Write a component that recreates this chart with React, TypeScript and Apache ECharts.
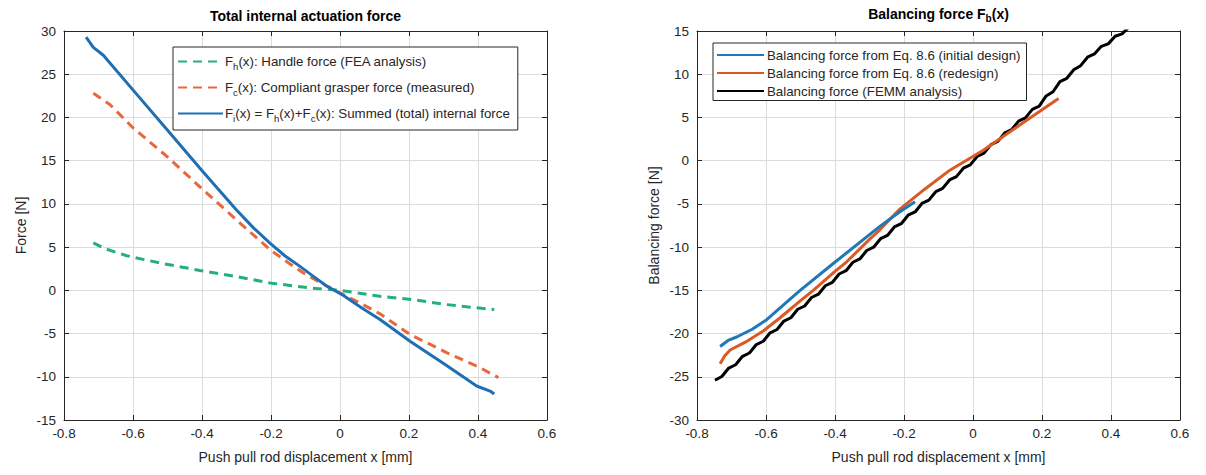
import React, { useEffect, useRef } from "react";
import * as echarts from "echarts";

// ---- Left chart: Total internal actuation force ----
const fhX = [-0.715, -0.68, -0.618, -0.522, -0.406, -0.3, -0.203, -0.087, 0, 0.116, 0.212, 0.309, 0.447];
const fhY = [5.5, 4.8, 4.0, 3.16, 2.3, 1.6, 0.85, 0.28, 0, -0.69, -1.07, -1.65, -2.23];

const fcX = [-0.715, -0.667, -0.6, -0.502, -0.396, -0.3, -0.203, -0.15, -0.106, -0.05, 0, 0.06, 0.116, 0.203, 0.309, 0.406, 0.459];
const fcY = [22.8, 21.5, 18.8, 15.5, 11.6, 8.15, 4.7, 3.2, 2.0, 0.75, -0.3, -1.5, -2.72, -5.1, -7.2, -8.95, -10.1];

const fiX = [-0.736, -0.715, -0.686, -0.589, -0.493, -0.401, -0.3, -0.25, -0.203, -0.16, -0.116, -0.08, -0.039, 0.01, 0.06, 0.116, 0.203, 0.309, 0.396, 0.435, 0.447];
const fiY = [29.3, 28.1, 27.2, 22.67, 18.2, 13.9, 9.3, 7.2, 5.47, 4.0, 2.77, 1.7, 0.5, -0.6, -1.95, -3.38, -5.88, -8.7, -11.07, -11.65, -12.0];

// ---- Right chart: Balancing force Fb(x) ----
const initX = [-0.733, -0.71, -0.685, -0.64, -0.598, -0.55, -0.501, -0.405, -0.27, -0.212, -0.168];
const initY = [-21.5, -20.8, -20.4, -19.5, -18.4, -16.7, -15.0, -11.9, -7.6, -5.9, -4.76];

const redX = [-0.733, -0.72, -0.704, -0.66, -0.608, -0.56, -0.5, -0.463, -0.4, -0.366, -0.3, -0.27, -0.212, -0.14, -0.067, 0.03, 0.127, 0.248];
const redY = [-23.5, -22.6, -21.9, -21.0, -19.7, -18.2, -16.2, -15.0, -12.8, -11.7, -9.1, -8.0, -5.6, -3.3, -1.1, 1.2, 3.9, 7.2];

const femmX = [
  -0.748, -0.728, -0.708, -0.688, -0.668, -0.648, -0.628, -0.608, -0.588, -0.568,
  -0.548, -0.528, -0.508, -0.488, -0.468, -0.448, -0.428, -0.408, -0.388, -0.368,
  -0.348, -0.328, -0.308, -0.288, -0.268, -0.248, -0.228, -0.208, -0.188, -0.168,
  -0.148, -0.128, -0.108, -0.088, -0.068, -0.048, -0.028, -0.008, 0.012, 0.032,
  0.052, 0.072, 0.092, 0.112, 0.132, 0.152, 0.172, 0.192, 0.212, 0.232,
  0.252, 0.272, 0.292, 0.312, 0.332, 0.352, 0.372, 0.392, 0.412, 0.432, 0.452,
];
const femmY = [
  -25.4, -24.97, -23.99, -23.61, -22.63, -22.25, -21.27, -20.89, -19.91, -19.53,
  -18.55, -18.17, -17.19, -16.81, -15.83, -15.45, -14.47, -14.09, -13.11, -12.73,
  -11.75, -11.37, -10.39, -10.01, -9.03, -8.65, -7.67, -7.29, -6.31, -5.93,
  -4.95, -4.57, -3.59, -3.21, -2.23, -1.85, -0.87, -0.49, 0.49, 0.87,
  1.85, 2.23, 3.21, 3.59, 4.57, 4.95, 5.93, 6.31, 7.49, 7.97,
  9.15, 9.53, 10.51, 10.99, 11.97, 12.35, 13.23, 13.51, 14.39, 14.67, 15.45,
];

const xTicks = { min: -0.8, max: 0.6, interval: 0.2 };
const leftY = { min: -15, max: 30, interval: 5 };
const rightY = { min: -30, max: 15, interval: 5 };

const legendLeft: Record<string, string> = {
  Fh: "F{s|h}(x): Handle force (FEA analysis)",
  Fc: "F{s|c}(x): Compliant grasper force (measured)",
  Fi: "F{s|i}(x) = F{s|h}(x)+F{s|c}(x): Summed (total) internal force",
};
const legendRight: Record<string, string> = {
  Init: "Balancing force from Eq. 8.6 (initial design)",
  Red: "Balancing force from Eq. 8.6 (redesign)",
  Femm: "Balancing force (FEMM analysis)",
};

const zip = (xs: number[], ys: number[]) => xs.map((x, i) => [x, ys[i]]);

const FONT = "'Liberation Sans', Arial, Helvetica, sans-serif";
const AX = "#262626";
const GRIDC = "#dcdcdc";

function makeX(gridIndex: number, bottom: boolean) {
  return {
    type: "value",
    gridIndex,
    position: bottom ? "bottom" : "top",
    ...xTicks,
    name: bottom ? "Push pull rod displacement x [mm]" : "",
    nameLocation: "middle",
    nameGap: 30,
    nameTextStyle: { fontFamily: FONT, fontSize: 14, color: AX },
    axisLine: { show: true, onZero: false, lineStyle: { color: AX, width: 1 } },
    axisTick: { show: true, inside: true, length: 5, lineStyle: { color: AX } },
    axisLabel: {
      show: bottom,
      fontFamily: FONT,
      fontSize: 13.5,
      color: AX,
      margin: 6,
      formatter: (v: number) => String(Math.round(v * 10) / 10),
    },
    splitLine: { show: bottom, lineStyle: { color: GRIDC, width: 1 } },
  };
}

function makeY(gridIndex: number, left: boolean, range: any, name: string) {
  return {
    type: "value",
    gridIndex,
    position: left ? "left" : "right",
    ...range,
    name: left ? name : "",
    nameLocation: "middle",
    nameGap: 36,
    nameTextStyle: { fontFamily: FONT, fontSize: 14, color: AX },
    axisLine: { show: true, onZero: false, lineStyle: { color: AX, width: 1 } },
    axisTick: { show: true, inside: true, length: 5, lineStyle: { color: AX } },
    axisLabel: { show: left, fontFamily: FONT, fontSize: 13.5, color: AX, margin: 8 },
    splitLine: { show: left, lineStyle: { color: GRIDC, width: 1 } },
  };
}

const noSymbol = { color: "rgba(0,0,0,0)", borderWidth: 0, opacity: 0 };

export default function App() {
  const ref = useRef<HTMLDivElement>(null);
  useEffect(() => {
    document.body.style.margin = "0";
    const chart = echarts.init(ref.current!, null, { renderer: "svg" });
    const subRich = { s: { fontSize: 9.5, fontFamily: FONT, color: AX, padding: [9, 0, 0, 0] } };
    const plain = { showSymbol: false, symbol: "none", smooth: false };
    chart.setOption({
      animation: false,
      backgroundColor: "#fff",
      grid: [
        { left: 64, top: 31, width: 483, height: 389 },
        { left: 697, top: 31, width: 483, height: 389 },
      ],
      xAxis: [makeX(0, true), makeX(0, false), makeX(1, true), makeX(1, false)],
      yAxis: [
        makeY(0, true, leftY, "Force [N]"),
        makeY(0, false, leftY, ""),
        makeY(1, true, rightY, "Balancing force [N]"),
        makeY(1, false, rightY, ""),
      ],
      legend: [
        {
          data: ["Fh", "Fc", "Fi"],
          orient: "vertical",
          left: 173,
          top: 47,
          itemWidth: 45,
          itemHeight: 10,
          itemGap: 10,
          padding: [8, 8, 7, 4],
          selectedMode: false,
          backgroundColor: "#fff",
          borderColor: AX,
          borderWidth: 1,
          itemStyle: noSymbol,
          formatter: (n: string) => legendLeft[n],
          textStyle: { fontFamily: FONT, fontSize: 13.3, color: AX, padding: [0, 0, 0, -3], rich: subRich },
        },
        {
          data: ["Init", "Red", "Femm"],
          orient: "vertical",
          left: 713,
          top: 43,
          itemWidth: 47,
          itemHeight: 10,
          itemGap: 5,
          padding: [5.5, 6, 3, 3],
          selectedMode: false,
          backgroundColor: "#fff",
          borderColor: AX,
          borderWidth: 1,
          itemStyle: noSymbol,
          formatter: (n: string) => legendRight[n],
          textStyle: { fontFamily: FONT, fontSize: 13.3, color: AX, padding: [0, 0, 0, -2] },
        },
      ],
      graphic: [
        {
          type: "text",
          x: 305.5,
          y: 9,
          style: {
            text: "Total internal actuation force",
            font: `bold 14px ${FONT}`,
            fill: "#000",
            textAlign: "center",
          },
        },
        {
          type: "text",
          x: 938.5,
          y: 4,
          style: {
            text: "Balancing force F{s|b}(x)",
            font: `bold 14px ${FONT}`,
            fill: "#000",
            textAlign: "center",
            rich: { s: { fontSize: 10, fontWeight: "bold", fontFamily: FONT, fill: "#000", padding: [9, 0, 0, 0] } },
          },
        },
      ],
      series: [
        {
          name: "Fh",
          type: "line",
          xAxisIndex: 0,
          yAxisIndex: 0,
          data: zip(fhX, fhY),
          ...plain,
          lineStyle: { color: "#22b07d", width: 3, type: [9, 6] },
          itemStyle: { color: "#22b07d" },
        },
        {
          name: "Fc",
          type: "line",
          xAxisIndex: 0,
          yAxisIndex: 0,
          data: zip(fcX, fcY),
          ...plain,
          lineStyle: { color: "#e8683c", width: 3, type: [9, 6] },
          itemStyle: { color: "#e8683c" },
        },
        {
          name: "Fi",
          type: "line",
          xAxisIndex: 0,
          yAxisIndex: 0,
          data: zip(fiX, fiY),
          ...plain,
          lineStyle: { color: "#1f6fb5", width: 3 },
          itemStyle: { color: "#1f6fb5" },
        },
        {
          name: "Init",
          type: "line",
          xAxisIndex: 2,
          yAxisIndex: 2,
          data: zip(initX, initY),
          ...plain,
          lineStyle: { color: "#1f78b8", width: 3 },
          itemStyle: { color: "#1f78b8" },
          z: 4,
        },
        {
          name: "Red",
          type: "line",
          xAxisIndex: 2,
          yAxisIndex: 2,
          data: zip(redX, redY),
          ...plain,
          lineStyle: { color: "#d95a24", width: 3 },
          itemStyle: { color: "#d95a24" },
          z: 3,
        },
        {
          name: "Femm",
          type: "line",
          xAxisIndex: 2,
          yAxisIndex: 2,
          data: zip(femmX, femmY),
          ...plain,
          lineStyle: { color: "#000", width: 3 },
          itemStyle: { color: "#000" },
          z: 2,
        },
      ],
    });
    return () => chart.dispose();
  }, []);
  return <div ref={ref} style={{ width: 1206, height: 475 }} />;
}
